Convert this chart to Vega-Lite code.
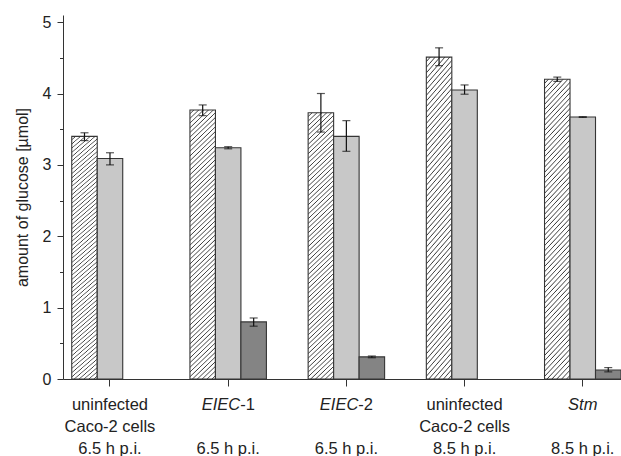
{
  "$schema": "https://vega.github.io/schema/vega-lite/v6.json",
  "width": 558,
  "height": 364,
  "autosize": {"type": "none"},
  "padding": {"left": 63, "top": 15, "right": 0, "bottom": 77},
  "background": "white",
  "config": {
    "view": {"stroke": null},
    "font": "Liberation Sans",
    "axis": {"grid": false, "domainColor": "#333333", "tickColor": "#333333", "labelColor": "#222222", "titleColor": "#222222", "labelFont": "Liberation Sans", "titleFont": "Liberation Sans", "titleFontWeight": "normal"}
  },
  "data": {
    "values": [
      {"group": "uninfected 6.5", "series": "s1", "value": 3.40, "lo": 3.34, "hi": 3.45},
      {"group": "uninfected 6.5", "series": "s2", "value": 3.09, "lo": 3.00, "hi": 3.17},
      {"group": "EIEC-1", "series": "s1", "value": 3.77, "lo": 3.69, "hi": 3.84},
      {"group": "EIEC-1", "series": "s2", "value": 3.24, "lo": 3.225, "hi": 3.255},
      {"group": "EIEC-1", "series": "s3", "value": 0.80, "lo": 0.74, "hi": 0.855},
      {"group": "EIEC-2", "series": "s1", "value": 3.73, "lo": 3.46, "hi": 4.00},
      {"group": "EIEC-2", "series": "s2", "value": 3.40, "lo": 3.19, "hi": 3.62},
      {"group": "EIEC-2", "series": "s3", "value": 0.31, "lo": 0.298, "hi": 0.322},
      {"group": "uninfected 8.5", "series": "s1", "value": 4.51, "lo": 4.39, "hi": 4.64},
      {"group": "uninfected 8.5", "series": "s2", "value": 4.05, "lo": 3.99, "hi": 4.12},
      {"group": "Stm", "series": "s1", "value": 4.20, "lo": 4.17, "hi": 4.23},
      {"group": "Stm", "series": "s2", "value": 3.67, "lo": 3.665, "hi": 3.675},
      {"group": "Stm", "series": "s3", "value": 0.126, "lo": 0.10, "hi": 0.16}
    ]
  },
  "layer": [
    {
      "mark": {"type": "bar", "stroke": "#353535", "strokeWidth": 1.1},
      "encoding": {
        "x": {
          "field": "group", "type": "nominal", "title": null,
          "scale": {"domain": ["uninfected 6.5", "EIEC-1", "EIEC-2", "uninfected 8.5", "Stm"], "paddingInner": 0.353, "paddingOuter": 0.037, "align": 1},
          "axis": {
            "orient": "bottom",
            "labelExpr": "datum.value === 'EIEC-1' || datum.value === 'EIEC-2' ? '6.5 h p.i.' : datum.value === 'Stm' ? '8.5 h p.i.' : datum.value === 'uninfected 6.5' ? ['uninfected', 'Caco-2 cells', '6.5 h p.i.'] : ['uninfected', 'Caco-2 cells', '8.5 h p.i.']",
            "labelFontSize": 16.5, "labelLineHeight": 22, "labelAngle": 0, "labelBaseline": "top", "labelAlign": "center",
            "tickSize": 7,
            "labelPadding": {"condition": {"test": "datum.value === 'EIEC-1' || datum.value === 'EIEC-2' || datum.value === 'Stm'", "value": 54}, "value": 10},
            "labelOverlap": false, "labelBound": false
          }
        },
        "xOffset": {"field": "series", "type": "nominal", "scale": {"domain": ["s1", "s2", "s3"], "paddingInner": 0, "paddingOuter": 0}},
        "y": {
          "field": "value", "type": "quantitative", "title": "amount of glucose [µmol]",
          "scale": {"domain": [0, 5.1], "nice": false, "zero": true},
          "axis": {
            "orient": "left",
            "values": [0, 1, 2, 3, 4, 5],
            "format": "d",
            "tickSize": 6,
            "labelPadding": 6, "labelFontSize": 16, "titleFontSize": 16, "titlePadding": 12
          }
        },
        "fill": {
          "condition": [
            {"test": "datum.series === 's1'", "value": {"gradient": "linear", "x1": 0, "y1": 0, "x2": 0.0985, "y2": 1.082, "stops": [
{"offset":0,"color":"#fff"},{"offset":0.0095,"color":"#fff"},{"offset":0.013,"color":"#3c3c3c"},
{"offset":0.016,"color":"#fff"},{"offset":0.0255,"color":"#fff"},{"offset":0.029,"color":"#3c3c3c"},
{"offset":0.032,"color":"#fff"},{"offset":0.0415,"color":"#fff"},{"offset":0.045,"color":"#3c3c3c"},
{"offset":0.048,"color":"#fff"},{"offset":0.0575,"color":"#fff"},{"offset":0.061,"color":"#3c3c3c"},
{"offset":0.064,"color":"#fff"},{"offset":0.0735,"color":"#fff"},{"offset":0.077,"color":"#3c3c3c"},
{"offset":0.08,"color":"#fff"},{"offset":0.0895,"color":"#fff"},{"offset":0.093,"color":"#3c3c3c"},
{"offset":0.096,"color":"#fff"},{"offset":0.1055,"color":"#fff"},{"offset":0.109,"color":"#3c3c3c"},
{"offset":0.112,"color":"#fff"},{"offset":0.1215,"color":"#fff"},{"offset":0.125,"color":"#3c3c3c"},
{"offset":0.128,"color":"#fff"},{"offset":0.1375,"color":"#fff"},{"offset":0.141,"color":"#3c3c3c"},
{"offset":0.144,"color":"#fff"},{"offset":0.1535,"color":"#fff"},{"offset":0.157,"color":"#3c3c3c"},
{"offset":0.16,"color":"#fff"},{"offset":0.1695,"color":"#fff"},{"offset":0.173,"color":"#3c3c3c"},
{"offset":0.176,"color":"#fff"},{"offset":0.1855,"color":"#fff"},{"offset":0.189,"color":"#3c3c3c"},
{"offset":0.192,"color":"#fff"},{"offset":0.2015,"color":"#fff"},{"offset":0.205,"color":"#3c3c3c"},
{"offset":0.208,"color":"#fff"},{"offset":0.2175,"color":"#fff"},{"offset":0.221,"color":"#3c3c3c"},
{"offset":0.224,"color":"#fff"},{"offset":0.2335,"color":"#fff"},{"offset":0.237,"color":"#3c3c3c"},
{"offset":0.24,"color":"#fff"},{"offset":0.2495,"color":"#fff"},{"offset":0.253,"color":"#3c3c3c"},
{"offset":0.256,"color":"#fff"},{"offset":0.2655,"color":"#fff"},{"offset":0.269,"color":"#3c3c3c"},
{"offset":0.272,"color":"#fff"},{"offset":0.2815,"color":"#fff"},{"offset":0.285,"color":"#3c3c3c"},
{"offset":0.288,"color":"#fff"},{"offset":0.2975,"color":"#fff"},{"offset":0.301,"color":"#3c3c3c"},
{"offset":0.304,"color":"#fff"},{"offset":0.3135,"color":"#fff"},{"offset":0.317,"color":"#3c3c3c"},
{"offset":0.32,"color":"#fff"},{"offset":0.3295,"color":"#fff"},{"offset":0.333,"color":"#3c3c3c"},
{"offset":0.336,"color":"#fff"},{"offset":0.3455,"color":"#fff"},{"offset":0.349,"color":"#3c3c3c"},
{"offset":0.352,"color":"#fff"},{"offset":0.3615,"color":"#fff"},{"offset":0.365,"color":"#3c3c3c"},
{"offset":0.368,"color":"#fff"},{"offset":0.3775,"color":"#fff"},{"offset":0.381,"color":"#3c3c3c"},
{"offset":0.384,"color":"#fff"},{"offset":0.3935,"color":"#fff"},{"offset":0.397,"color":"#3c3c3c"},
{"offset":0.4,"color":"#fff"},{"offset":0.4095,"color":"#fff"},{"offset":0.413,"color":"#3c3c3c"},
{"offset":0.416,"color":"#fff"},{"offset":0.4255,"color":"#fff"},{"offset":0.429,"color":"#3c3c3c"},
{"offset":0.432,"color":"#fff"},{"offset":0.4415,"color":"#fff"},{"offset":0.445,"color":"#3c3c3c"},
{"offset":0.448,"color":"#fff"},{"offset":0.4575,"color":"#fff"},{"offset":0.461,"color":"#3c3c3c"},
{"offset":0.464,"color":"#fff"},{"offset":0.4735,"color":"#fff"},{"offset":0.477,"color":"#3c3c3c"},
{"offset":0.48,"color":"#fff"},{"offset":0.4895,"color":"#fff"},{"offset":0.493,"color":"#3c3c3c"},
{"offset":0.496,"color":"#fff"},{"offset":0.5055,"color":"#fff"},{"offset":0.509,"color":"#3c3c3c"},
{"offset":0.512,"color":"#fff"},{"offset":0.5215,"color":"#fff"},{"offset":0.525,"color":"#3c3c3c"},
{"offset":0.528,"color":"#fff"},{"offset":0.5375,"color":"#fff"},{"offset":0.541,"color":"#3c3c3c"},
{"offset":0.544,"color":"#fff"},{"offset":0.5535,"color":"#fff"},{"offset":0.557,"color":"#3c3c3c"},
{"offset":0.56,"color":"#fff"},{"offset":0.5695,"color":"#fff"},{"offset":0.573,"color":"#3c3c3c"},
{"offset":0.576,"color":"#fff"},{"offset":0.5855,"color":"#fff"},{"offset":0.589,"color":"#3c3c3c"},
{"offset":0.592,"color":"#fff"},{"offset":0.6015,"color":"#fff"},{"offset":0.605,"color":"#3c3c3c"},
{"offset":0.608,"color":"#fff"},{"offset":0.6175,"color":"#fff"},{"offset":0.621,"color":"#3c3c3c"},
{"offset":0.624,"color":"#fff"},{"offset":0.6335,"color":"#fff"},{"offset":0.637,"color":"#3c3c3c"},
{"offset":0.64,"color":"#fff"},{"offset":0.6495,"color":"#fff"},{"offset":0.653,"color":"#3c3c3c"},
{"offset":0.656,"color":"#fff"},{"offset":0.6655,"color":"#fff"},{"offset":0.669,"color":"#3c3c3c"},
{"offset":0.672,"color":"#fff"},{"offset":0.6815,"color":"#fff"},{"offset":0.685,"color":"#3c3c3c"},
{"offset":0.688,"color":"#fff"},{"offset":0.6975,"color":"#fff"},{"offset":0.701,"color":"#3c3c3c"},
{"offset":0.704,"color":"#fff"},{"offset":0.7135,"color":"#fff"},{"offset":0.717,"color":"#3c3c3c"},
{"offset":0.72,"color":"#fff"},{"offset":0.7295,"color":"#fff"},{"offset":0.733,"color":"#3c3c3c"},
{"offset":0.736,"color":"#fff"},{"offset":0.7455,"color":"#fff"},{"offset":0.749,"color":"#3c3c3c"},
{"offset":0.752,"color":"#fff"},{"offset":0.7615,"color":"#fff"},{"offset":0.765,"color":"#3c3c3c"},
{"offset":0.768,"color":"#fff"},{"offset":0.7775,"color":"#fff"},{"offset":0.781,"color":"#3c3c3c"},
{"offset":0.784,"color":"#fff"},{"offset":0.7935,"color":"#fff"},{"offset":0.797,"color":"#3c3c3c"},
{"offset":0.8,"color":"#fff"},{"offset":0.8095,"color":"#fff"},{"offset":0.813,"color":"#3c3c3c"},
{"offset":0.816,"color":"#fff"},{"offset":0.8255,"color":"#fff"},{"offset":0.829,"color":"#3c3c3c"},
{"offset":0.832,"color":"#fff"},{"offset":0.8415,"color":"#fff"},{"offset":0.845,"color":"#3c3c3c"},
{"offset":0.848,"color":"#fff"},{"offset":0.8575,"color":"#fff"},{"offset":0.861,"color":"#3c3c3c"},
{"offset":0.864,"color":"#fff"},{"offset":0.8735,"color":"#fff"},{"offset":0.877,"color":"#3c3c3c"},
{"offset":0.88,"color":"#fff"},{"offset":0.8895,"color":"#fff"},{"offset":0.893,"color":"#3c3c3c"},
{"offset":0.896,"color":"#fff"},{"offset":0.9055,"color":"#fff"},{"offset":0.909,"color":"#3c3c3c"},
{"offset":0.912,"color":"#fff"},{"offset":0.9215,"color":"#fff"},{"offset":0.925,"color":"#3c3c3c"},
{"offset":0.928,"color":"#fff"},{"offset":0.9375,"color":"#fff"},{"offset":0.941,"color":"#3c3c3c"},
{"offset":0.944,"color":"#fff"},{"offset":0.9535,"color":"#fff"},{"offset":0.957,"color":"#3c3c3c"},
{"offset":0.96,"color":"#fff"},{"offset":0.9695,"color":"#fff"},{"offset":0.973,"color":"#3c3c3c"},
{"offset":0.976,"color":"#fff"},{"offset":0.9855,"color":"#fff"},{"offset":0.989,"color":"#3c3c3c"},
{"offset":0.992,"color":"#fff"},{"offset":1,"color":"#fff"}
            ]}},
            {"test": "datum.series === 's2'", "value": "#c8c8c8"}
          ],
          "value": "#848484"
        }
      }
    },
    {
      "mark": {"type": "rule", "color": "#111111", "strokeWidth": 1.2},
      "encoding": {
        "x": {
          "field": "group", "type": "nominal", "title": null,
          "scale": {"domain": ["uninfected 6.5", "EIEC-1", "EIEC-2", "uninfected 8.5", "Stm"], "paddingInner": 0.353, "paddingOuter": 0.037, "align": 1},
          "axis": {
            "orient": "bottom", "domain": false, "tickOpacity": 0, "tickSize": 7, "labelPadding": 10,
            "values": ["EIEC-1", "EIEC-2", "Stm"],
            "labelFontSize": 16.5, "labelLineHeight": 22, "labelAngle": 0, "labelBaseline": "top", "labelFontStyle": "italic",
            "labelExpr": "datum.value === 'Stm' ? 'Stm' : 'EIEC'",
            "labelAlign": {"condition": {"test": "datum.value === 'Stm'", "value": "center"}, "value": "right"},
            "labelOffset": {"condition": {"test": "datum.value === 'Stm'", "value": 0}, "value": 12},
            "labelOverlap": false, "labelBound": false
          }
        },
        "xOffset": {"field": "series", "type": "nominal", "scale": {"domain": ["s1", "s2", "s3"], "paddingInner": 0, "paddingOuter": 0}},
        "y": {"field": "lo", "type": "quantitative", "axis": null},
        "y2": {"field": "hi"}
      }
    },
    {
      "mark": {"type": "tick", "color": "#111111", "size": 8, "thickness": 1.2},
      "encoding": {
        "x": {
          "field": "group", "type": "nominal", "title": null,
          "scale": {"domain": ["uninfected 6.5", "EIEC-1", "EIEC-2", "uninfected 8.5", "Stm"], "paddingInner": 0.353, "paddingOuter": 0.037, "align": 1},
          "axis": {
            "orient": "bottom", "domain": false, "tickOpacity": 0, "tickSize": 7, "labelPadding": 10,
            "values": ["EIEC-1", "EIEC-2"],
            "labelFontSize": 16.5, "labelLineHeight": 22, "labelAngle": 0, "labelBaseline": "top",
            "labelExpr": "datum.value === 'EIEC-1' ? '-1' : '-2'",
            "labelAlign": "left", "labelOffset": 12, "labelOverlap": false, "labelBound": false
          }
        },
        "xOffset": {"field": "series", "type": "nominal", "scale": {"domain": ["s1", "s2", "s3"], "paddingInner": 0, "paddingOuter": 0}},
        "y": {"field": "lo", "type": "quantitative", "axis": null}
      }
    },
    {
      "mark": {"type": "tick", "color": "#111111", "size": 8, "thickness": 1.2},
      "encoding": {
        "x": {
          "field": "group", "type": "nominal", "title": null,
          "scale": {"domain": ["uninfected 6.5", "EIEC-1", "EIEC-2", "uninfected 8.5", "Stm"], "paddingInner": 0.353, "paddingOuter": 0.037, "align": 1},
          "axis": null
        },
        "xOffset": {"field": "series", "type": "nominal", "scale": {"domain": ["s1", "s2", "s3"], "paddingInner": 0, "paddingOuter": 0}},
        "y": {
          "field": "hi", "type": "quantitative",
          "axis": {"orient": "left", "values": [0.5, 1.5, 2.5, 3.5, 4.5], "tickSize": 3.5, "tickColor": "#333333", "labels": false, "domain": false, "title": null}
        }
      }
    }
  ],
  "resolve": {"axis": {"x": "independent", "y": "independent"}}
}
